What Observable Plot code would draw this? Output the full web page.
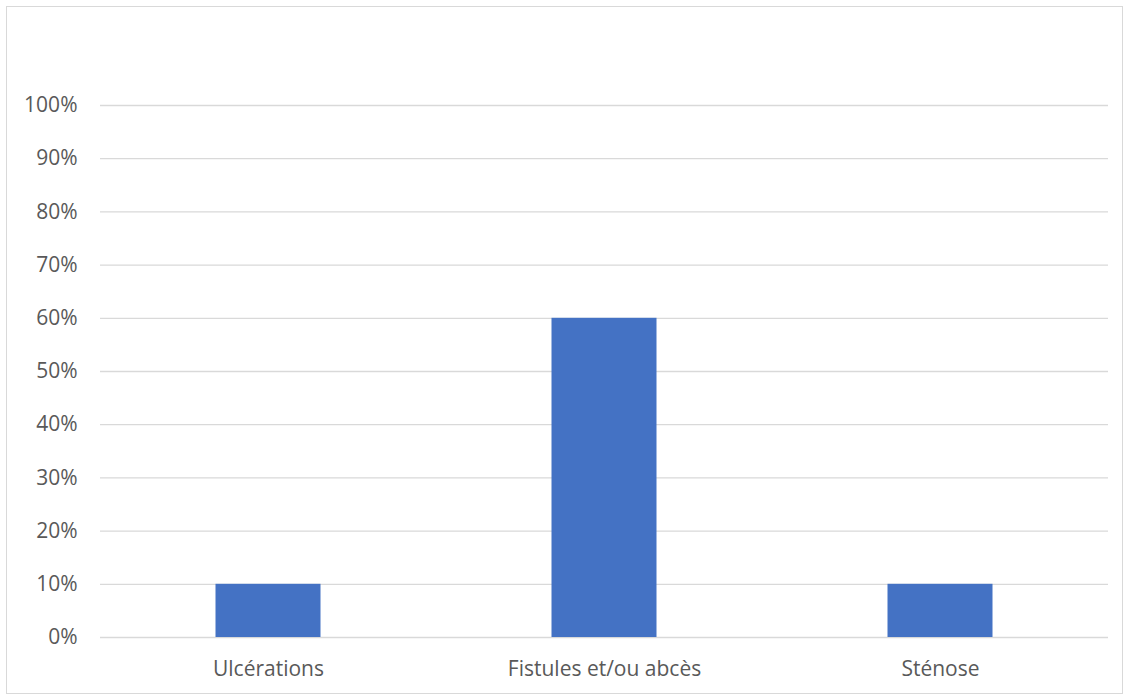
<!DOCTYPE html>
<html>
<head>
<meta charset="utf-8">
<script src="https://cdn.jsdelivr.net/npm/d3@7"></script>
<script src="https://cdn.jsdelivr.net/npm/@observablehq/plot@0.6"></script>
<style>
  html, body { margin: 0; padding: 0; background: #fff; }
  #chart { position: relative; width: 1131px; height: 698px; }
  #border { position: absolute; left: 6px; top: 6px; width: 1117px; height: 688px; border: 1px solid #d9d9d9; box-sizing: border-box; pointer-events: none; }
  #chart svg { position: absolute; left: 0; top: 0; }
</style>
</head>
<body>
<div id="chart"><div id="border"></div></div>
<script>
// Share of patients per lesion type
const categories = ["Ulcérations", "Fistules et/ou abcès", "Sténose"];
const values = [0.10, 0.60, 0.10];
const yTicks = [0, 0.1, 0.2, 0.3, 0.4, 0.5, 0.6, 0.7, 0.8, 0.9, 1.0];

const data = categories.map((c, i) => ({category: c, value: values[i]}));

const chart = Plot.plot({
  width: 1131,
  height: 698,
  marginLeft: 100,
  marginRight: 23,
  marginTop: 105,
  marginBottom: 61,
  style: {fontFamily: "'Open Sans', Lato, sans-serif", fontSize: "21px", color: "#595959", background: "transparent"},
  x: {domain: categories, padding: 0, label: null, tickSize: 0, tickPadding: 24},
  y: {domain: [0, 1], ticks: yTicks, tickFormat: d3.format(".0%"), label: null, tickSize: 0, tickPadding: 23},
  marks: [
    Plot.gridY(yTicks, {stroke: "#d9d9d9", strokeOpacity: 1, strokeWidth: 1.3}),
    Plot.barY(data, {x: "category", y: "value", fill: "#4472c4", insetLeft: 115.5, insetRight: 115.5}),
    Plot.axisX({tickSize: 0, tickPadding: 24, fontSize: 21, fill: "#595959"}),
    Plot.axisY({ticks: yTicks, tickFormat: d3.format(".0%"), tickSize: 0, tickPadding: 23, fontSize: 21, fill: "#595959"})
  ]
});
document.getElementById("chart").appendChild(chart);
</script>
</body>
</html>
